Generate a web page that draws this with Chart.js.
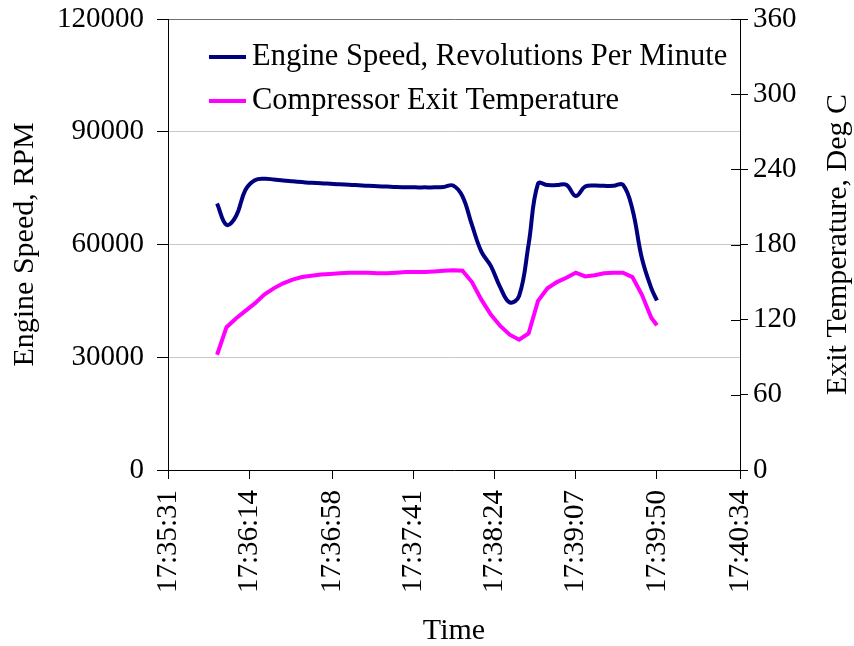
<!DOCTYPE html>
<html>
<head>
<meta charset="utf-8">
<script src="https://cdn.jsdelivr.net/npm/chart.js@4.4.1/dist/chart.umd.min.js"></script>
<style>
  body { margin: 0; background: #fff; }
</style>
</head>
<body>
<canvas id="myChart" width="854" height="646"></canvas>
<script>
const times = [
  "17:35:57", "17:36:02", "17:36:07", "17:36:12", "17:36:17", "17:36:22", "17:36:27", "17:36:32",
  "17:36:37", "17:36:42", "17:36:47", "17:36:52", "17:36:57", "17:37:02", "17:37:07", "17:37:12",
  "17:37:17", "17:37:22", "17:37:27", "17:37:32", "17:37:37", "17:37:42", "17:37:47", "17:37:52",
  "17:37:57", "17:38:02", "17:38:07", "17:38:12", "17:38:17", "17:38:22", "17:38:27", "17:38:32",
  "17:38:37", "17:38:42", "17:38:47", "17:38:52", "17:38:57", "17:39:02", "17:39:07", "17:39:12",
  "17:39:17", "17:39:22", "17:39:27", "17:39:32", "17:39:37", "17:39:42", "17:39:47", "17:39:50",
];

const engineSpeed = [
  70900, 65200, 67500, 74500, 77100, 77500, 77300, 77000,
  76800, 76600, 76400, 76300, 76150, 76000, 75900, 75750,
  75600, 75500, 75400, 75300, 75250, 75200, 75200, 75200,
  75300, 75700, 72800, 65200, 58100, 54300, 48600, 44600,
  46300, 60000, 76200, 75800, 75800, 75900, 72900, 75400,
  75700, 75600, 75600, 75900, 69400, 56400, 48400, 45100,
];

const exitTemp = [
  92, 114, 121, 127, 133, 140, 145, 149,
  152, 154, 155, 156, 156.5, 157, 157.5, 157.5,
  157.5, 157, 157, 157.5, 158, 158, 158, 158.5,
  159, 159.5, 159, 150, 136, 124, 115, 108,
  104, 109, 135, 145, 150, 153.5, 157.5, 154.5,
  155.5, 157, 157.5, 157.5, 154, 140, 121.5, 115.5,
];

const xTicks = ["17:35:31", "17:36:14", "17:36:58", "17:37:41", "17:38:24", "17:39:07", "17:39:50", "17:40:34"];

const serif = "'Liberation Serif', 'Times New Roman', serif";

function toSec(s) {
  const p = s.split(":").map(Number);
  return p[0] * 3600 + p[1] * 60 + p[2];
}

// legend inside the plot, right axis title read bottom-to-top, right ticks crossing the axis
const extras = {
  id: "extras",
  afterDraw(chart) {
    const ctx = chart.ctx;
    const area = chart.chartArea;
    ctx.save();
    ctx.font = "30.5px " + serif;
    ctx.textBaseline = "middle";
    chart.data.datasets.forEach((ds, i) => {
      const y = 57 + i * 44;
      ctx.strokeStyle = ds.borderColor;
      ctx.lineWidth = 4;
      ctx.beginPath();
      ctx.moveTo(area.left + 41, y);
      ctx.lineTo(area.left + 78, y);
      ctx.stroke();
      ctx.fillStyle = "#000";
      ctx.fillText(ds.label, area.left + 84, y);
    });

    const y2 = chart.scales.y2;
    ctx.strokeStyle = "#000";
    ctx.lineWidth = 1;
    y2.ticks.forEach((t) => {
      const py = Math.round(y2.getPixelForValue(t.value)) + 0.5;
      ctx.beginPath();
      ctx.moveTo(area.right - 9, py);
      ctx.lineTo(area.right, py);
      ctx.stroke();
    });

    ctx.font = "30px " + serif;
    ctx.translate(838, (area.top + area.bottom) / 2);
    ctx.rotate(-Math.PI / 2);
    ctx.textAlign = "center";
    ctx.fillStyle = "#000";
    ctx.fillText("Exit Temperature, Deg C", 0, 0);
    ctx.restore();
  },
};

Chart.defaults.font.family = serif;
Chart.defaults.font.size = 29;
Chart.defaults.color = "#000";

new Chart("myChart", {
  type: "line",
  data: {
    datasets: [
      {
        label: "Engine Speed, Revolutions Per Minute",
        data: times.map((t, i) => ({ x: toSec(t), y: engineSpeed[i] })),
        borderColor: "#000080",
        borderWidth: 4,
        tension: 0.4,
        pointRadius: 0,
        fill: false,
        yAxisID: "y",
      },
      {
        label: "Compressor Exit Temperature",
        data: times.map((t, i) => ({ x: toSec(t), y: exitTemp[i] })),
        borderColor: "#ff00ff",
        borderWidth: 4,
        tension: 0,
        pointRadius: 0,
        fill: false,
        yAxisID: "y2",
      },
    ],
  },
  options: {
    responsive: false,
    animation: false,
    layout: { padding: { top: 19, left: 0, right: 0, bottom: 0 } },
    plugins: {
      legend: { display: false },
      tooltip: { enabled: false },
    },
    scales: {
      x: {
        type: "linear",
        min: toSec(xTicks[0]),
        max: toSec(xTicks[xTicks.length - 1]),
        afterBuildTicks: (s) => {
          s.ticks = xTicks.map((t) => ({ value: toSec(t) }));
        },
        afterFit: (s) => {
          s.height = 176;
          s.paddingLeft = 0;
          s.paddingRight = 0;
        },
        ticks: {
          autoSkip: false,
          minRotation: 90,
          maxRotation: 90,
          padding: 11,
          callback: (v, i) => xTicks[i],
        },
        grid: { drawOnChartArea: false, tickLength: 9, color: "#000" },
        border: { color: "#000", width: 1 },
        title: {
          display: true,
          text: "Time",
          font: { size: 30, lineHeight: 1 },
          padding: { top: 0, bottom: 0 },
        },
      },
      y: {
        position: "left",
        min: 0,
        max: 120000,
        ticks: { stepSize: 30000, padding: 13, callback: (v) => String(v) },
        afterFit: (s) => {
          s.width = 168;
          s.paddingTop = 0;
          s.paddingBottom = 0;
        },
        grid: {
          color: (c) => (c.tick && c.tick.value === 120000 ? "#707070" : "#c8c8c8"),
          tickColor: "#000",
          tickLength: 11,
        },
        border: { color: "#000", width: 1 },
        title: {
          display: true,
          text: "Engine Speed, RPM",
          font: { size: 30, lineHeight: 1.2 },
          padding: { top: 7, bottom: 0 },
        },
      },
      y2: {
        position: "right",
        min: 0,
        max: 360,
        ticks: { stepSize: 60, padding: 5, callback: (v) => String(v) },
        afterFit: (s) => {
          s.width = 114;
          s.paddingTop = 0;
          s.paddingBottom = 0;
        },
        grid: { drawOnChartArea: false, tickLength: 8, color: "#000" },
        border: { color: "#000", width: 1 },
      },
    },
  },
  plugins: [extras],
});
</script>
</body>
</html>
